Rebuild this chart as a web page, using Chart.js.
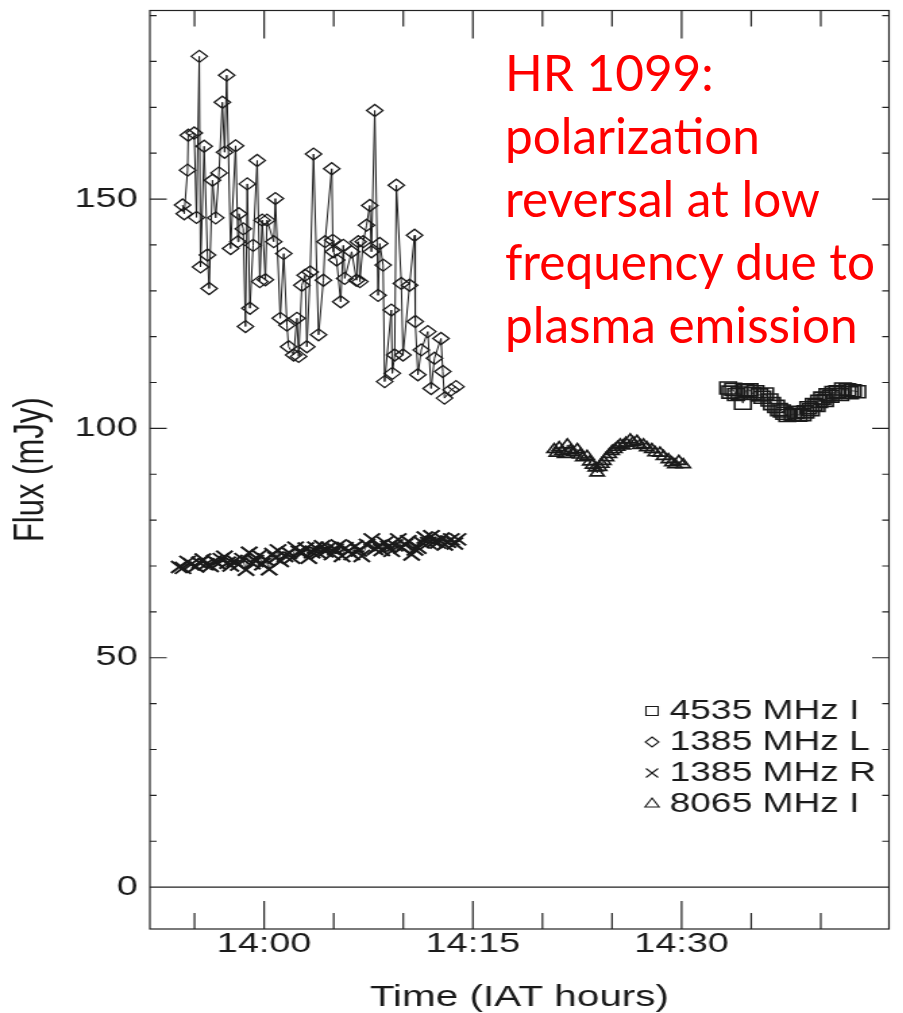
<!DOCTYPE html>
<html>
<head>
<meta charset="utf-8">
<script src="https://cdn.jsdelivr.net/npm/chart.js@4.4.1/dist/chart.umd.min.js"></script>
<style>
  html, body { margin: 0; padding: 0; background: #fff; }
  body { width: 903px; height: 1013px; position: relative; overflow: hidden; }
  /* the source figure is stretched sideways, so the plot is drawn narrow and widened */
  #plot { position: absolute; left: 0; top: 0; width: 669px; height: 1013px; transform: scaleX(1.35); transform-origin: 0 0; }
  #note { position: absolute; left: 505px; top: 41px; color: #ff0000; font-family: Lato, "Open Sans", sans-serif; font-size: 49.5px; line-height: 63px; white-space: nowrap; }
</style>
</head>
<body>
<div id="plot"><canvas id="myChart" width="669" height="1013"></canvas></div>
<div id="note">HR 1099:<br>polarization<br>reversal at low<br>frequency due to<br>plasma emission</div>
<script>
const seriesLabels = ["4535 MHz I", "1385 MHz L", "1385 MHz R", "8065 MHz I"];

// time in minutes after 14:00 IAT, flux in mJy
const timeI4535 = [33.34, 33.5, 33.7, 33.9, 34.16, 34.4, 34.6, 34.88, 35.1, 35.3, 35.59, 35.8, 36.0, 36.31, 36.5, 36.79, 37.0, 37.2, 37.38, 37.6, 37.98, 38.2, 38.4, 38.69, 38.9, 39.1, 39.29, 39.5, 39.7, 39.88, 40.1, 40.3, 40.48, 40.7, 40.9, 41.19, 41.4, 41.6, 41.91, 42.1, 42.3, 42.62];
const fluxI4535 = [108.8, 107.9, 108.5, 107.4, 107.7, 105.5, 108.2, 108.4, 107.6, 108.0, 107.3, 106.8, 107.5, 106.2, 105.4, 104.8, 104.1, 103.8, 103.3, 102.8, 103.0, 103.5, 102.9, 103.0, 103.6, 104.5, 104.1, 105.2, 105.0, 105.9, 106.6, 106.1, 107.3, 107.0, 107.8, 108.0, 107.4, 108.6, 108.4, 107.8, 108.2, 108.0];

const timeL1385 = [-5.86, -5.74, -5.50, -5.45, -5.02, -4.86, -4.66, -4.57, -4.31, -4.07, -3.95, -3.71, -3.48, -3.24, -3.00, -2.84, -2.69, -2.41, -2.05, -1.88, -1.81, -1.50, -1.34, -1.21, -1.02, -0.79, -0.50, -0.31, -0.14, 0.09, 0.21, 0.69, 0.81, 1.16, 1.41, 1.64, 1.76, 2.12, 2.36, 2.48, 2.71, 2.95, 3.07, 3.31, 3.55, 3.91, 4.26, 4.38, 4.86, 4.93, 4.98, 5.21, 5.50, 5.69, 5.79, 6.29, 6.64, 6.76, 6.88, 7.12, 7.36, 7.59, 7.71, 7.95, 8.19, 8.31, 8.55, 8.66, 9.14, 9.21, 9.38, 9.50, 9.86, 9.98, 10.45, 10.81, 10.86, 11.05, 11.29, 11.76, 12.00, 12.24, 12.71, 12.84, 12.96, 13.43, 13.79];
const fluxL1385 = [148.7, 146.8, 156.3, 163.9, 164.4, 146.0, 181.1, 135.2, 161.5, 137.8, 130.5, 154.1, 145.9, 155.7, 171.1, 160.2, 177.0, 139.2, 161.6, 140.7, 146.8, 143.5, 122.2, 153.3, 126.2, 139.9, 158.4, 132.0, 145.4, 132.4, 145.4, 140.7, 150.1, 124.0, 138.1, 122.5, 117.8, 116.0, 124.0, 115.7, 131.2, 133.4, 117.8, 134.1, 159.8, 120.4, 132.3, 140.7, 156.6, 141.0, 138.5, 136.7, 127.6, 139.9, 132.7, 138.5, 132.3, 140.7, 132.0, 140.7, 144.3, 148.6, 138.5, 169.3, 129.0, 140.3, 135.6, 110.2, 125.8, 112.0, 116.0, 153.0, 131.6, 116.0, 131.2, 142.1, 123.3, 111.7, 117.1, 121.1, 108.7, 115.3, 119.6, 112.4, 106.6, 108.4, 109.1];

const timeR1385 = [-6.1, -5.83, -5.5, -5.24, -4.9, -4.64, -4.4, -4.17, -3.85, -3.57, -3.3, -3.10, -2.85, -2.62, -2.4, -2.14, -1.85, -1.55, -1.3, -1.07, -0.85, -0.60, -0.35, -0.12, 0.12, 0.36, 0.6, 0.83, 1.0, 1.19, 1.5, 1.79, 2.0, 2.26, 2.5, 2.74, 3.0, 3.21, 3.45, 3.69, 3.93, 4.17, 4.4, 4.64, 4.88, 5.12, 5.36, 5.60, 5.83, 6.07, 6.3, 6.55, 6.8, 7.02, 7.4, 7.74, 7.98, 8.21, 8.45, 8.69, 8.93, 9.17, 9.4, 9.64, 9.88, 10.12, 10.36, 10.60, 10.84, 11.07, 11.3, 11.55, 11.8, 12.02, 12.25, 12.5, 12.75, 12.98, 13.2, 13.45, 13.7, 13.93];
const fluxR1385 = [69.8, 69.6, 70.9, 70.4, 69.9, 70.7, 71.4, 70.4, 70.0, 71.1, 70.5, 71.5, 72.0, 70.7, 70.1, 71.1, 70.3, 71.5, 69.2, 72.9, 70.6, 71.1, 72.3, 70.4, 71.4, 69.3, 72.6, 71.8, 73.4, 71.1, 72.2, 72.9, 71.8, 74.0, 73.1, 72.9, 73.8, 71.8, 73.0, 74.0, 72.8, 74.3, 73.2, 74.0, 72.6, 73.6, 74.5, 72.2, 73.9, 73.3, 72.6, 74.3, 73.4, 72.2, 74.6, 75.8, 73.7, 74.3, 73.5, 75.1, 74.2, 73.3, 74.5, 75.8, 74.0, 74.7, 75.4, 72.5, 73.6, 74.0, 75.2, 76.2, 75.0, 76.5, 75.3, 75.1, 76.0, 74.7, 75.3, 75.8, 74.9, 75.8];

const timeI8065 = [20.84, 21.0, 21.2, 21.4, 21.6, 21.79, 22.0, 22.2, 22.5, 22.7, 22.9, 23.21, 23.4, 23.6, 23.8, 23.93, 24.1, 24.25, 24.41, 24.6, 24.8, 25.0, 25.2, 25.4, 25.59, 25.8, 26.0, 26.31, 26.5, 26.79, 27.0, 27.26, 27.5, 27.86, 28.1, 28.45, 28.7, 29.05, 29.3, 29.52, 29.8, 30.12];
const fluxI8065 = [95.4, 94.6, 95.8, 95.0, 94.3, 96.4, 95.1, 94.7, 95.4, 94.2, 93.6, 93.9, 92.7, 92.0, 91.4, 90.3, 91.5, 92.2, 92.8, 93.6, 94.3, 95.0, 95.4, 95.9, 96.4, 96.2, 96.8, 97.5, 96.9, 97.2, 96.3, 96.4, 95.8, 95.4, 94.7, 94.6, 93.9, 93.2, 92.5, 92.1, 92.8, 92.1];

const xLabelMinutes = [0, 15, 30];
const xTickLabels = ["14:00", "14:15", "14:30"];
const yTickLabels = [0, 50, 100, 150];

const ink = "#1a1a1a";
const fontFamily = "'Liberation Sans', Arial, sans-serif";
Chart.defaults.font.family = fontFamily;
Chart.defaults.color = ink;

function toPoints(times, flux) {
  return times.map((t, i) => ({ x: t, y: flux[i] }));
}

function makeSet(label, times, flux, style, radius, lineWidth, markWidth) {
  return {
    label: label,
    data: toPoints(times, flux),
    showLine: true,
    borderColor: ink,
    borderWidth: lineWidth,
    pointStyle: style,
    pointRadius: radius,
    pointBorderColor: ink,
    pointBackgroundColor: "rgba(255,255,255,0)",
    pointBorderWidth: markWidth,
  };
}

// frame, zero line and inward ticks on all four sides
const frameTicks = {
  id: "frameTicks",
  beforeDatasetsDraw(chart) {
    const { ctx, chartArea: a } = chart;
    const x = chart.scales.x;
    const y = chart.scales.y;
    ctx.save();
    ctx.strokeStyle = "#222";
    ctx.lineWidth = 1.2;
    ctx.strokeRect(a.left, a.top, a.right - a.left, a.bottom - a.top);
    ctx.beginPath();
    const y0 = y.getPixelForValue(0);
    ctx.moveTo(a.left, y0);
    ctx.lineTo(a.right, y0);
    y.ticks.forEach((t) => {
      const py = y.getPixelForValue(t.value);
      const len = t.value % 50 === 0 ? 12.5 : 5;
      ctx.moveTo(a.left, py);
      ctx.lineTo(a.left + len, py);
      ctx.moveTo(a.right, py);
      ctx.lineTo(a.right - len, py);
    });
    x.ticks.forEach((t) => {
      const px = x.getPixelForValue(t.value);
      const len = t.value % 15 === 0 ? 28 : 16;
      ctx.moveTo(px, a.bottom);
      ctx.lineTo(px, a.bottom - len);
      ctx.moveTo(px, a.top);
      ctx.lineTo(px, a.top + len);
    });
    ctx.stroke();
    ctx.restore();
  },
};

function drawSymbol(ctx, style, cx, cy, r) {
  ctx.beginPath();
  if (style === "rect") {
    ctx.rect(cx - r, cy - r, 2 * r, 2 * r);
  } else if (style === "rectRot") {
    ctx.moveTo(cx, cy - r);
    ctx.lineTo(cx + r, cy);
    ctx.lineTo(cx, cy + r);
    ctx.lineTo(cx - r, cy);
    ctx.closePath();
  } else if (style === "crossRot") {
    ctx.moveTo(cx - r, cy - r);
    ctx.lineTo(cx + r, cy + r);
    ctx.moveTo(cx + r, cy - r);
    ctx.lineTo(cx - r, cy + r);
  } else {
    ctx.moveTo(cx, cy - r);
    ctx.lineTo(cx + r * 0.87, cy + r * 0.5);
    ctx.lineTo(cx - r * 0.87, cy + r * 0.5);
    ctx.closePath();
  }
  ctx.stroke();
}

const legendSizes = [4.5, 5, 4.5, 6];
const legendBox = {
  id: "legendBox",
  afterDraw(chart) {
    const ctx = chart.ctx;
    ctx.save();
    ctx.font = "27.5px " + fontFamily;
    ctx.textBaseline = "middle";
    ctx.strokeStyle = ink;
    ctx.fillStyle = ink;
    ctx.lineWidth = 1.1;
    chart.data.datasets.forEach((ds, i) => {
      const yy = 711 + i * 31;
      drawSymbol(ctx, ds.pointStyle, 483, yy, legendSizes[i]);
      ctx.fillText(ds.label, 496, yy);
    });
    ctx.restore();
  },
};

new Chart(document.getElementById("myChart"), {
  type: "scatter",
  data: {
    datasets: [
      makeSet(seriesLabels[0], timeI4535, fluxI4535, "rect", 8.5, 0.8, 1.6),
      makeSet(seriesLabels[1], timeL1385, fluxL1385, "rectRot", 6, 1, 1.3),
      makeSet(seriesLabels[2], timeR1385, fluxR1385, "crossRot", 8.5, 0.8, 2),
      makeSet(seriesLabels[3], timeI8065, fluxI8065, "triangle", 6, 0.8, 1.6),
    ],
  },
  options: {
    responsive: false,
    animation: false,
    events: [],
    layout: { padding: { top: 8, right: 6, left: 0, bottom: 0 } },
    plugins: {
      legend: { display: false },
      tooltip: { enabled: false },
    },
    scales: {
      x: {
        type: "linear",
        min: -8.21,
        max: 44.9,
        afterFit: (scale) => {
          scale.height = 84;
          scale.paddingLeft = 0;
          scale.paddingRight = 0;
        },
        grid: { display: false, drawTicks: false },
        border: { display: false },
        ticks: {
          stepSize: 5,
          includeBounds: false,
          autoSkip: false,
          maxRotation: 0,
          maxTicksLimit: 100,
          padding: 1,
          font: { size: 28, lineHeight: 1 },
          callback: (value) => {
            const i = xLabelMinutes.indexOf(value);
            return i >= 0 ? xTickLabels[i] : "";
          },
        },
        title: {
          display: true,
          text: "Time (IAT hours)",
          font: { size: 30, lineHeight: 1 },
          padding: 0,
        },
      },
      y: {
        type: "linear",
        min: -9.13,
        max: 191.1,
        afterFit: (scale) => {
          scale.width = 111;
          scale.paddingTop = 0;
          scale.paddingBottom = 0;
        },
        grid: { display: false, drawTicks: false },
        border: { display: false },
        ticks: {
          stepSize: 10,
          includeBounds: false,
          autoSkip: false,
          maxTicksLimit: 100,
          padding: 9,
          font: { size: 28, lineHeight: 1 },
          callback: (value) => (yTickLabels.includes(value) ? String(value) : ""),
        },
        title: {
          display: true,
          text: "Flux (mJy)",
          font: { size: 31, lineHeight: 1 },
          padding: { top: 7.7, bottom: 0 },
        },
      },
    },
  },
  plugins: [frameTicks, legendBox],
});
</script>
</body>
</html>
